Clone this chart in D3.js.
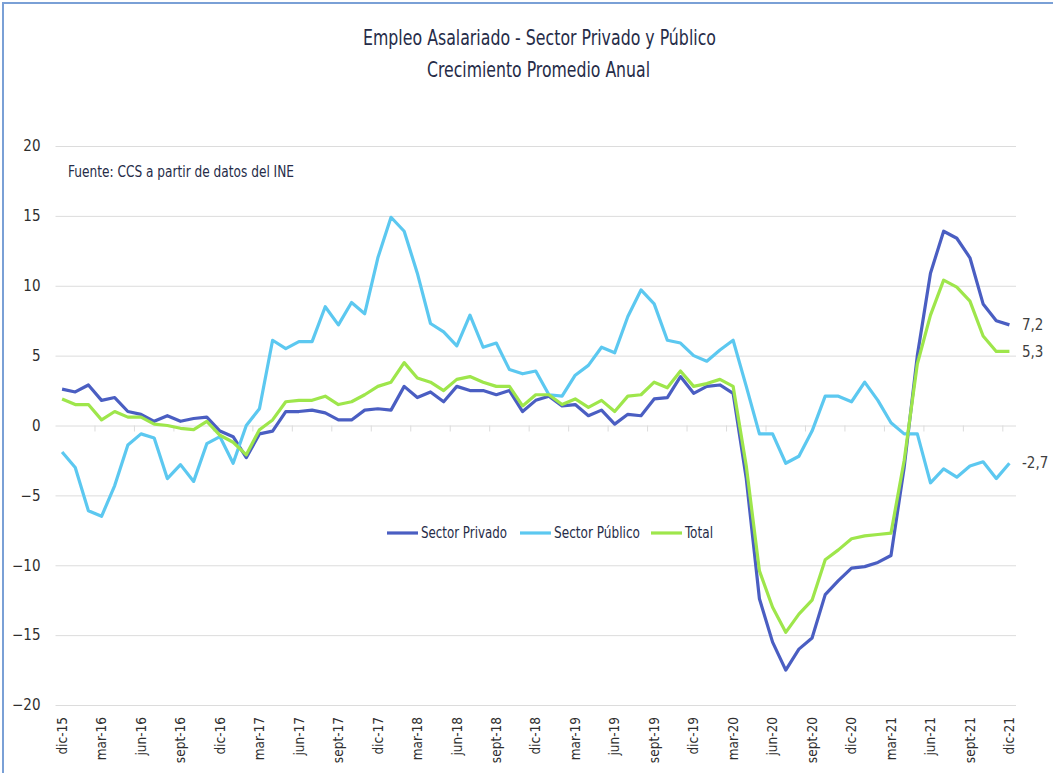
<!DOCTYPE html>
<html>
<head>
<meta charset="utf-8">
<script src="https://cdn.jsdelivr.net/npm/d3@7"></script>
<style>
body { margin: 0; background: #fff; }
text { font-family: "Liberation Sans Narrow", "DejaVu Sans Condensed", "Roboto", sans-serif; font-stretch: condensed; }
</style>
</head>
<body>
<svg></svg>
<script>
var width = 1053;
var height = 773;

// categorias mensuales dic-15 .. dic-21
var nombresMes = ['ene', 'feb', 'mar', 'abr', 'may', 'jun', 'jul', 'ago', 'sept', 'oct', 'nov', 'dic'];
var meses = ['dic-15'];
for (var a = 16; a <= 21; a++) {
    nombresMes.forEach(function(m){ meses.push(m + '-' + a); });
}

var privado = [2.6, 2.4, 2.9, 1.8, 2.0, 1.0, 0.8, 0.3, 0.7, 0.3, 0.5, 0.6,
    -0.4, -0.8, -2.3, -0.6, -0.4, 1.0, 1.0, 1.1, 0.9, 0.4, 0.4, 1.1,
    1.2, 1.1, 2.8, 2.0, 2.4, 1.7, 2.8, 2.5, 2.5, 2.2, 2.5, 1.0,
    1.8, 2.1, 1.4, 1.5, 0.7, 1.1, 0.1, 0.8, 0.7, 1.9, 2.0, 3.5,
    2.3, 2.8, 2.9, 2.3, -3.8, -12.4, -15.5, -17.5, -16.0, -15.2, -12.1, -11.1,
    -10.2, -10.1, -9.8, -9.3, -3.0, 5.0, 10.9, 13.9, 13.4, 12.0, 8.7, 7.5, 7.2];

var publico = [-1.9, -3.0, -6.1, -6.5, -4.3, -1.4, -0.6, -0.9, -3.8, -2.8, -4.0, -1.3,
    -0.8, -2.7, 0.0, 1.2, 6.1, 5.5, 6.0, 6.0, 8.5, 7.2, 8.8, 8.0,
    12.0, 14.9, 13.9, 10.9, 7.3, 6.7, 5.7, 7.9, 5.6, 5.9, 4.0, 3.7,
    3.9, 2.2, 2.1, 3.6, 4.3, 5.6, 5.2, 7.8, 9.7, 8.7, 6.1, 5.9,
    5.0, 4.6, 5.4, 6.1, 2.8, -0.6, -0.6, -2.7, -2.2, -0.4, 2.1, 2.1,
    1.7, 3.1, 1.8, 0.2, -0.6, -0.6, -4.1, -3.1, -3.7, -2.9, -2.6, -3.8, -2.7];

var total = [1.9, 1.5, 1.5, 0.4, 1.0, 0.6, 0.6, 0.1, 0.0, -0.2, -0.3, 0.3,
    -0.7, -1.2, -2.1, -0.3, 0.4, 1.7, 1.8, 1.8, 2.1, 1.5, 1.7, 2.2,
    2.8, 3.1, 4.5, 3.4, 3.1, 2.5, 3.3, 3.5, 3.1, 2.8, 2.8, 1.4,
    2.2, 2.2, 1.5, 1.9, 1.3, 1.8, 1.0, 2.1, 2.2, 3.1, 2.7, 3.9,
    2.8, 3.0, 3.3, 2.8, -2.9, -10.4, -13.0, -14.8, -13.5, -12.5, -9.6, -8.9,
    -8.1, -7.9, -7.8, -7.7, -2.5, 4.4, 7.9, 10.4, 9.9, 8.9, 6.4, 5.3, 5.3];

var yTicks = [20, 15, 10, 5, 0, -5, -10, -15, -20];
var xTickLabels = meses.filter(function(m, i){ return i % 3 === 0; });

var series = [
    {name: 'Sector Privado', values: privado, color: '#4a5ec2'},
    {name: 'Sector Público', values: publico, color: '#5cc8f0'},
    {name: 'Total', values: total, color: '#9ee64b'}
];

var svg = d3.select('svg')
    .attr('width', width)
    .attr('height', height);

// marco
svg.append('rect')
    .attr('x', 3).attr('y', 3)
    .attr('width', width + 10).attr('height', height + 10)
    .attr('fill', 'none')
    .attr('stroke', '#7aa0d6')
    .attr('stroke-width', 2);

var x = d3.scaleBand().domain(meses).range([55.5, 1016]);
var y = d3.scaleLinear().domain([-20, 20]).range([705, 146]);

// rejilla y etiquetas eje y
var gy = svg.append('g')
    .attr('transform', 'translate(55.5,0)')
    .call(d3.axisLeft(y).tickValues(yTicks).tickSize(-(1016 - 55.5)).tickPadding(15));
gy.select('.domain').remove();
gy.selectAll('line').attr('stroke', '#dcdcdc');
gy.selectAll('text').attr('fill', '#2e2e2e').attr('font-size', 15);

// marcas sobre la linea 0
svg.append('g').selectAll('line')
    .data(meses.filter(function(m, i){ return i > 0 && i % 3 === 0; }))
    .enter().append('line')
    .attr('x1', function(d){ return x(d); })
    .attr('x2', function(d){ return x(d); })
    .attr('y1', y(0))
    .attr('y2', y(0) + 6)
    .attr('stroke', '#dcdcdc');

// etiquetas eje x
var gx = svg.append('g')
    .attr('transform', 'translate(0,711)')
    .call(d3.axisBottom(x).tickValues(xTickLabels).tickSize(0));
gx.select('.domain').remove();
gx.selectAll('text')
    .attr('transform', 'rotate(-90)')
    .attr('x', -6).attr('y', 0).attr('dy', '0.35em')
    .style('text-anchor', 'end')
    .attr('fill', '#2e2e2e')
    .attr('font-size', 13.5);

var line = d3.line()
    .x(function(d, i){ return x(meses[i]) + x.bandwidth() / 2; })
    .y(function(d){ return y(d); });

series.forEach(function(s){
    svg.append('path')
        .datum(s.values)
        .attr('fill', 'none')
        .attr('stroke', s.color)
        .attr('stroke-width', 3.2)
        .attr('stroke-linejoin', 'round')
        .attr('d', line);
});

// valores finales
series.forEach(function(s){
    var v = s.values[s.values.length - 1];
    svg.append('text')
        .attr('x', 1022)
        .attr('y', y(v))
        .attr('dy', '0.35em')
        .attr('font-size', 15)
        .attr('fill', '#404040')
        .text(String(v).replace('.', ','));
});

// titulo
svg.append('text')
    .attr('x', 539.5).attr('y', 45)
    .attr('text-anchor', 'middle')
    .attr('font-size', 21)
    .attr('fill', '#262c48')
    .attr('textLength', 353).attr('lengthAdjust', 'spacingAndGlyphs')
    .text('Empleo Asalariado - Sector Privado y Público');
svg.append('text')
    .attr('x', 538.5).attr('y', 77)
    .attr('text-anchor', 'middle')
    .attr('font-size', 21)
    .attr('fill', '#262c48')
    .attr('textLength', 223).attr('lengthAdjust', 'spacingAndGlyphs')
    .text('Crecimiento Promedio Anual');

svg.append('text')
    .attr('x', 68).attr('y', 177)
    .attr('font-size', 15.5)
    .attr('fill', '#262c48')
    .attr('textLength', 226).attr('lengthAdjust', 'spacingAndGlyphs')
    .text('Fuente: CCS a partir de datos del INE');

// leyenda
var legX = [387, 520, 651];
var legW = [86, 86, 28];
series.forEach(function(s, i){
    var g = svg.append('g').attr('transform', 'translate(' + legX[i] + ',533)');
    g.append('line')
        .attr('x1', 0).attr('x2', 31)
        .attr('stroke', s.color)
        .attr('stroke-width', 3.2);
    g.append('text')
        .attr('x', 34).attr('dy', '0.35em')
        .attr('font-size', 15.5)
        .attr('fill', '#262c48')
        .attr('textLength', legW[i]).attr('lengthAdjust', 'spacingAndGlyphs')
        .text(s.name);
});
</script>
</body>
</html>
